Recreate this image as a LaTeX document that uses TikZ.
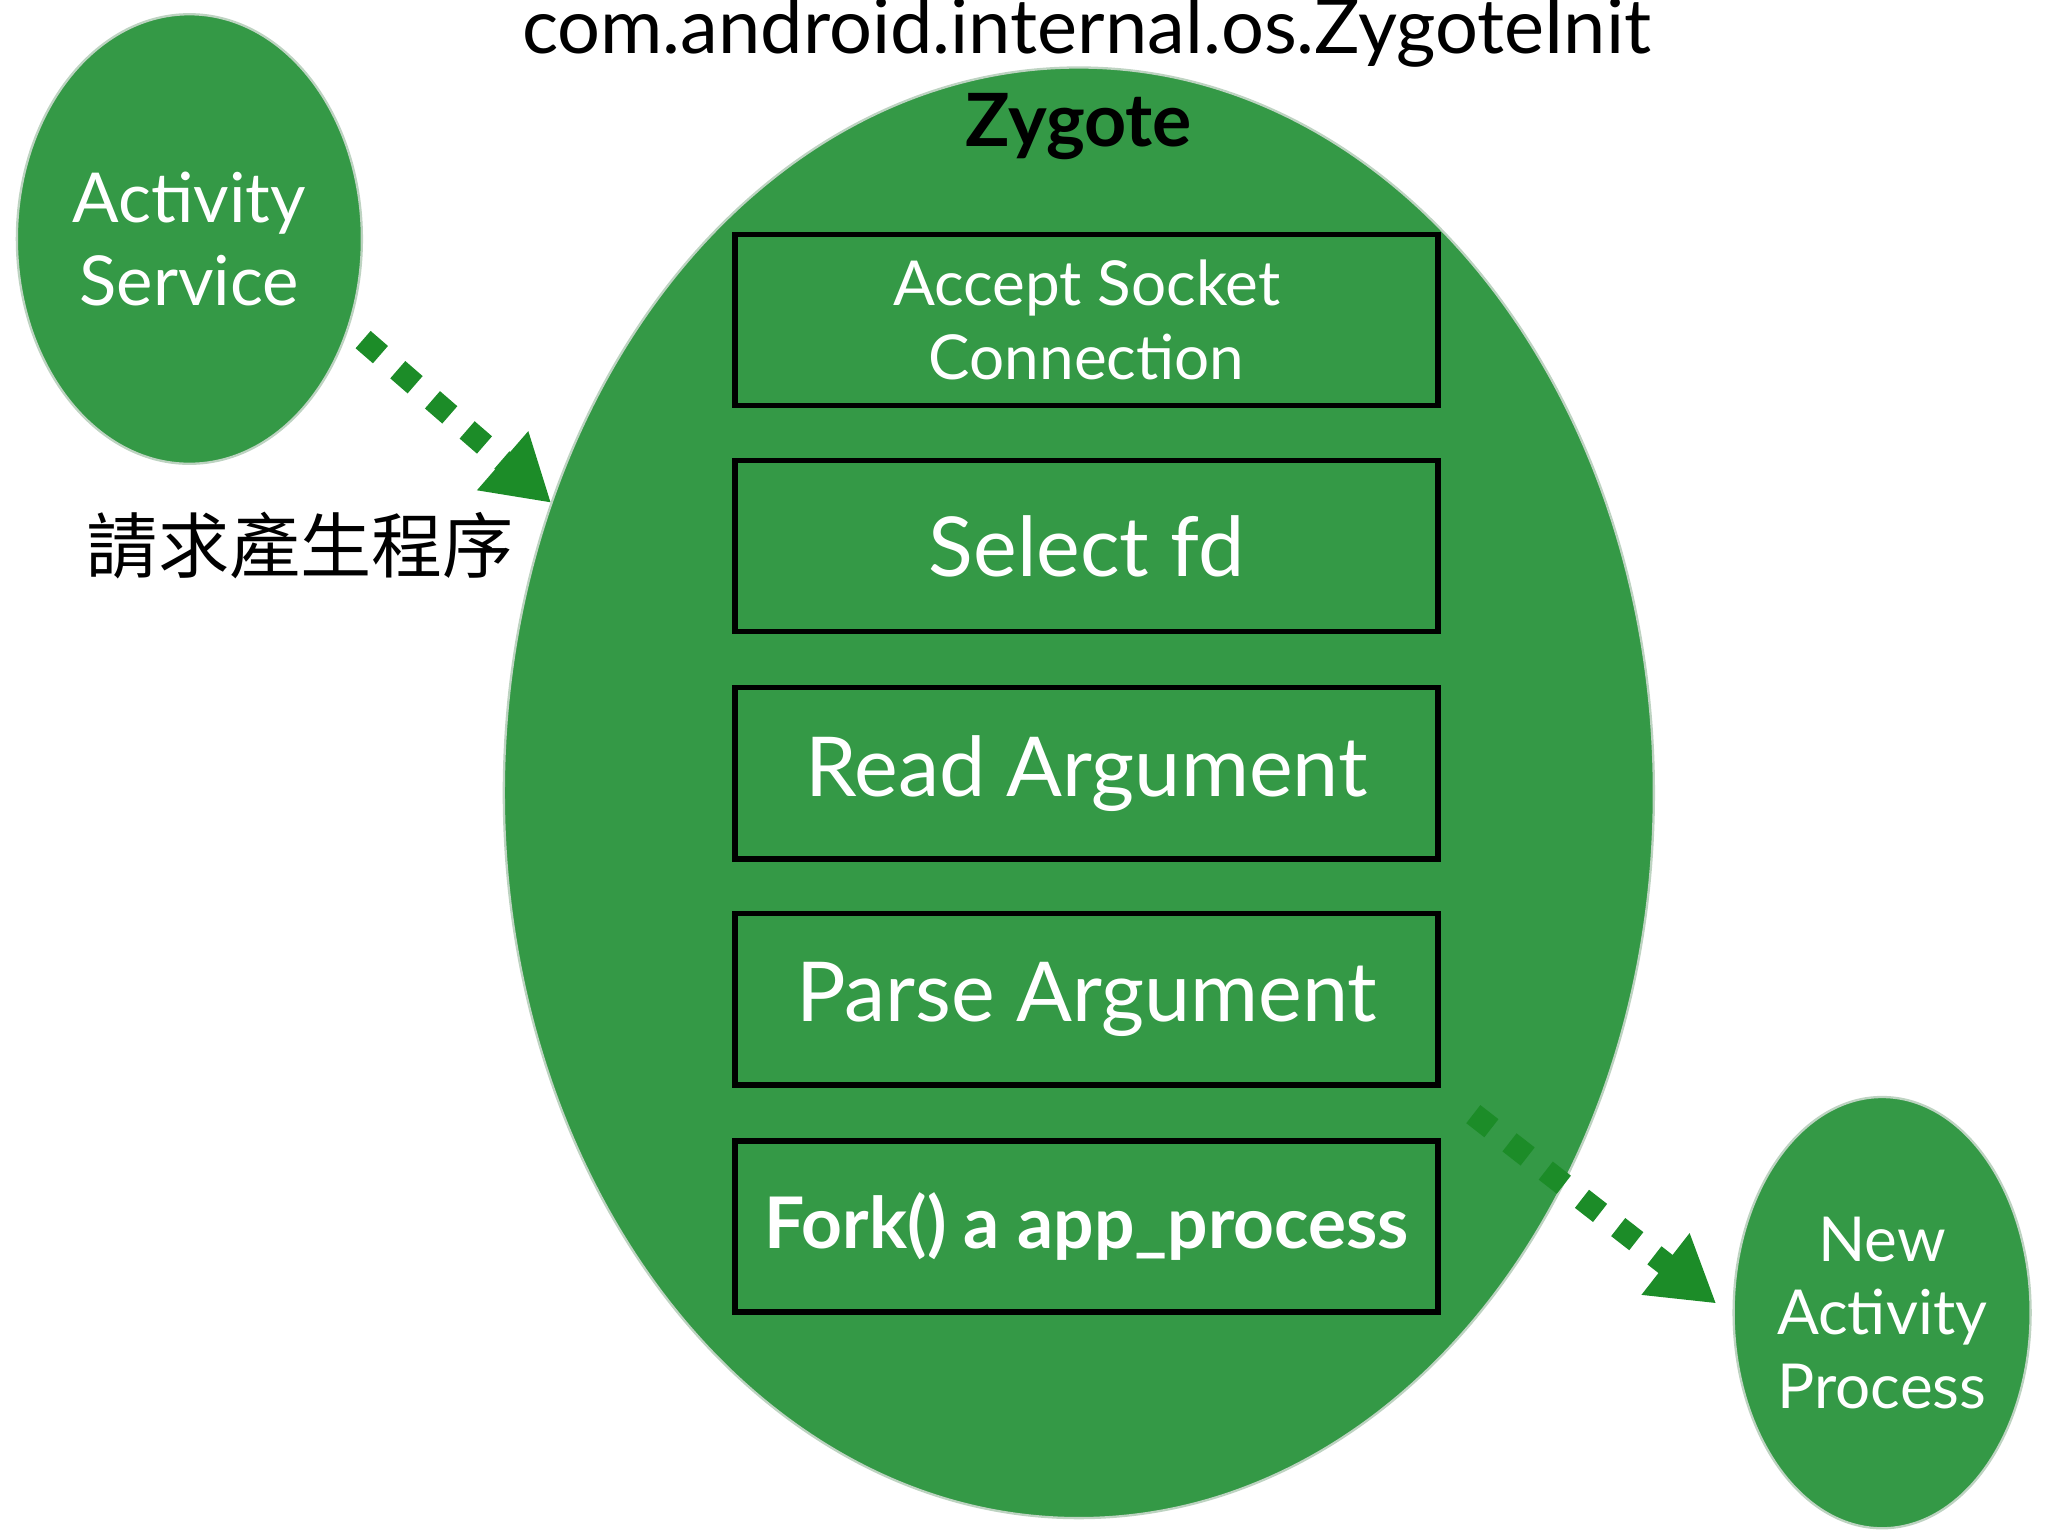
\documentclass[tikz,border=0pt]{standalone}
\usepackage{fontspec}
\setmainfont{Lato}
\newfontfamily\cjk{Noto Sans CJK TC}
\usetikzlibrary{arrows.meta,shapes.geometric}
\definecolor{zg}{RGB}{52,153,70}
\definecolor{ag}{RGB}{28,140,40}
\tikzset{
  blob/.style={fill=zg,draw=zg!70!black!30!white,line width=0.5pt,inner sep=0pt},
  stepbox/.style={draw=black,line width=1.2pt,minimum width=5.38cm,minimum height=1.31cm,text=white,align=center},
  flow/.style={ag,line width=5pt,dash pattern=on 5pt off 5pt,-{Triangle[length=14pt,width=16pt]}}
}
\begin{document}
\begin{tikzpicture}[x=0.01cm,y=-0.01cm]
\useasboundingbox (0,0) rectangle (1568,1176);
\node[blob,ellipse,minimum width=8.8cm,minimum height=11.1cm] (zyg) at (826,607) {};
\node[blob,ellipse,minimum width=2.64cm,minimum height=3.44cm,text=white,align=center,font=\fontsize{15}{18}\selectfont] (act) at (145,183) {Activity\\Service};
\node[blob,ellipse,minimum width=2.24cm,minimum height=3.3cm,text=white,align=center,font=\fontsize{13.5}{16}\selectfont] (new) at (1441,1005) {New\\Activity\\Process};
\node[font=\fontsize{16.5}{19}\selectfont] (title) at (832,25) {com.android.internal.os.ZygoteInit};
\node[font=\bfseries\fontsize{16}{19}\selectfont] (zt) at (826,97) {Zygote};
\node[stepbox,font=\fontsize{13.5}{16}\selectfont] (b1) at (832,245) {Accept Socket\\Connection};
\node[stepbox,font=\fontsize{18}{22}\selectfont] (b2) at (832,418) {Select fd};
\node[stepbox,font=\fontsize{18}{22}\selectfont] (b3) at (832,592) {Read Argument};
\node[stepbox,font=\fontsize{18}{22}\selectfont] (b4) at (832,765) {Parse Argument};
\node[stepbox,font=\bfseries\fontsize{15.5}{18}\selectfont] (b5) at (832,939) {Fork() a app\_process};
\node[font=\cjk\fontsize{15.5}{18}\selectfont] (req) at (230,418) {請求產生程序};
\coordinate (a1) at (278,260);
\coordinate (a2) at (422,385);
\coordinate (c1) at (1128,853);
\coordinate (c2) at (1314,998);
\draw[flow] (a1) -- (a2);
\draw[flow] (c1) -- (c2);
\end{tikzpicture}
\end{document}
